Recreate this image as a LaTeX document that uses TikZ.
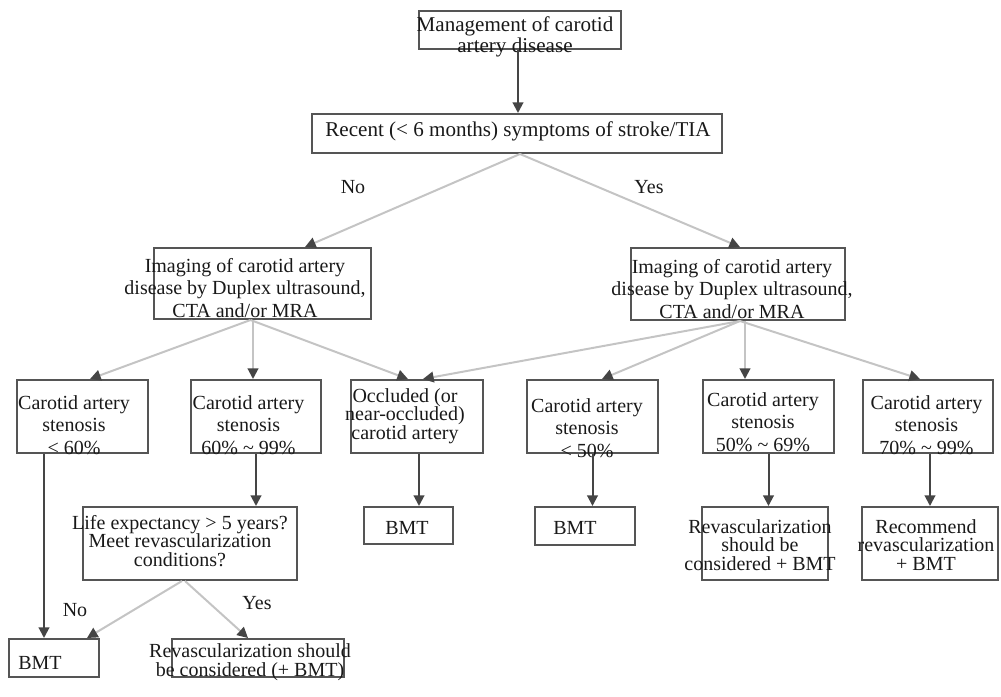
\documentclass[tikz,border=0pt]{standalone}
\usepackage{fontspec}
\setmainfont{Liberation Serif}
\usetikzlibrary{arrows.meta,calc,fit}
\definecolor{boxc}{HTML}{555555}
\definecolor{darkc}{HTML}{454545}
\definecolor{lightc}{HTML}{C4C4C4}
\tikzset{
  box/.style={draw=boxc, line width=1.5pt, inner sep=0pt},
  txt/.style={align=center, inner sep=0pt, text=black!90, font=\fontsize{15}{14}\selectfont},
  txtw/.style={txt, font=\fontsize{15}{16.9}\selectfont},
  txtt/.style={txt, font=\fontsize{15.8}{15.75}\selectfont},
  darr/.style={draw=darkc, line width=1.5pt, -{Triangle[length=8pt,width=8pt]}},
  larr/.style={draw=lightc, line width=1.5pt, -{Triangle[length=8pt,width=8pt,color=darkc]}},
}
\begin{document}
\begin{tikzpicture}[x=0.75pt,y=-0.75pt]
\useasboundingbox (0,0) rectangle (1001,697);

% boxes
\node[box, fit={(419,11) (621,49)}] (top) {};
\node[box, fit={(312,114) (722,153)}] (recent) {};
\node[box, fit={(154,248) (371,319)}] (impL) {};
\node[box, fit={(631,248) (845,320)}] (impR) {};
\node[box, fit={(17,380) (148,453)}] (b1) {};
\node[box, fit={(191,380) (321,453)}] (b2) {};
\node[box, fit={(351,380) (483,453)}] (b3) {};
\node[box, fit={(527,380) (658,453)}] (b4) {};
\node[box, fit={(703,380) (834,453)}] (b5) {};
\node[box, fit={(863,380) (993,453)}] (b6) {};
\node[box, fit={(9,639) (99,677)}] (bmtA) {};
\node[box, fit={(83,507) (297,580)}] (life) {};
\node[box, fit={(172,639) (344,677)}] (revA) {};
\node[box, fit={(364,507) (453,544)}] (bmt3) {};
\node[box, fit={(535,507) (635,545)}] (bmt4) {};
\node[box, fit={(702,507) (828,580)}] (rev5) {};
\node[box, fit={(862,507) (998,580)}] (rec6) {};

% texts
\node[txtt] (tTop) at (515,36.5) {Management of carotid\\artery disease};
\node[txtt] (tRec) at (518,131) {Recent (< 6 months) symptoms of stroke/TIA};
\node[txtw] (tImpL) at (245,288) {Imaging of carotid artery\\disease by Duplex ultrasound,\\CTA and/or MRA};
\node[txtw] (tImpR) at (732,289) {Imaging of carotid artery\\disease by Duplex ultrasound,\\CTA and/or MRA};
\node[txtw] (tb1) at (74,425) {Carotid artery\\stenosis\\< 60\%};
\node[txtw] (tb2) at (248.5,425) {Carotid artery\\stenosis\\60\% \textasciitilde{} 99\%};
\node[txt] (tb3) at (405,416) {Occluded (or\\near-occluded)\\carotid artery};
\node[txtw] (tb4) at (587,428) {Carotid artery\\stenosis\\< 50\%};
\node[txtw] (tb5) at (763,422) {Carotid artery\\stenosis\\50\% \textasciitilde{} 69\%};
\node[txtw] (tb6) at (926.5,425) {Carotid artery\\stenosis\\70\% \textasciitilde{} 99\%};
\node[txt] (tbmtA) at (40,663) {BMT};
\node[txt] (tlife) at (180,541) {Life expectancy > 5 years?\\Meet revascularization\\conditions?};
\node[txt] (trevA) at (250,662.5) {Revascularization should\\be considered (+ BMT)};
\node[txt] (tbmt3) at (407,528) {BMT};
\node[txt] (tbmt4) at (575,528) {BMT};
\node[txt] (trev5) at (760,545) {Revascularization\\should be\\considered + BMT};
\node[txt] (trec6) at (926,545) {Recommend\\revascularization\\+ BMT};

% labels
\node[txt] (lNo1) at (353,187) {No};
\node[txt] (lYes1) at (649,187) {Yes};
\node[txt] (lNo2) at (75,610) {No};
\node[txt] (lYes2) at (257,603) {Yes};

% connectors
\coordinate (s1) at ($(top.south)+(-2,0)$);
\draw[darr] (s1) -- (s1 |- recent.north);

\draw[larr] ($(recent.south)+(3,0)$) -- ($(impL.north)+(42.5,0)$);
\draw[larr] ($(recent.south)+(3,0)$) -- ($(impR.north)+(2,0)$);

\draw[larr] ($(impL.south)+(-12,0)$) -- ($(b1.north)+(7.5,0)$);
\coordinate (s2) at ($(impL.south)+(-9.5,0)$);
\draw[larr] (s2) -- (s2 |- b2.north);
\draw[larr] ($(impL.south)+(-12,0)$) -- ($(b3.north)+(-9,0)$);

\draw[larr] ($(impR.south)+(2,0)$) -- ($(b3.north)+(6,0)$);
\draw[larr] ($(impR.south)+(2,0)$) -- ($(b4.north)+(9.5,0)$);
\coordinate (s3) at ($(impR.south)+(7,0)$);
\draw[larr] (s3) -- (s3 |- b5.north);
\draw[larr] ($(impR.south)+(2,0)$) -- ($(b6.north)+(-8,0)$);

\coordinate (s4) at ($(b1.south)+(-38.5,0)$);
\draw[darr] (s4) -- (s4 |- bmtA.north);
\draw[darr] (b2.south) -- (b2.south |- life.north);
\coordinate (s5) at ($(b3.south)+(2,0)$);
\draw[darr] (s5) -- (s5 |- bmt3.north);
\draw[darr] (b4.south) -- (b4.south |- bmt4.north);
\draw[darr] (b5.south) -- (b5.south |- rev5.north);
\coordinate (s6) at ($(b6.south)+(2,0)$);
\draw[darr] (s6) -- (s6 |- rec6.north);

\draw[larr] ($(life.south)+(-8,0)$) -- ($(bmtA.north)+(33,0)$);
\draw[larr] ($(life.south)+(-5,0)$) -- ($(revA.north)+(-10,0)$);
\end{tikzpicture}
\end{document}
